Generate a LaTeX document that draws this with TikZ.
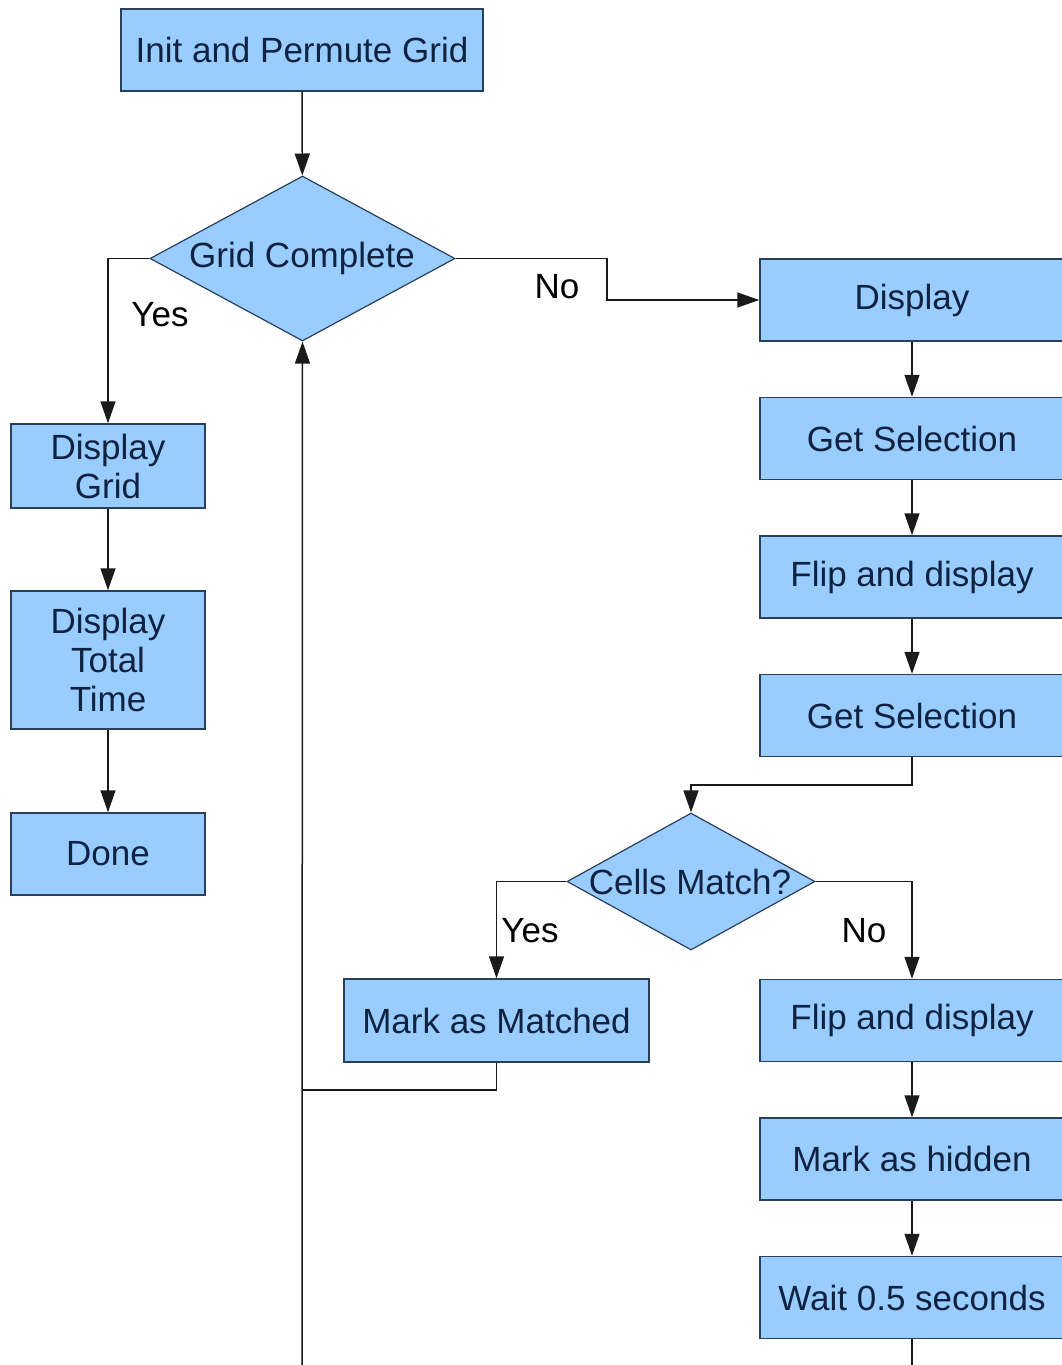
\documentclass[tikz,border=0pt]{standalone}
\usepackage{fontspec}
\setmainfont{Liberation Sans}
\usetikzlibrary{shapes.geometric,arrows.meta}
\definecolor{boxfill}{HTML}{99CCFF}
\definecolor{boxline}{HTML}{2A3F5A}
\definecolor{boxtext}{HTML}{0F2240}
\definecolor{wire}{HTML}{1A1A1A}
\begin{document}
\begin{tikzpicture}[x=1pt,y=-1pt,
  every node/.style={font=\fontsize{35}{39}\selectfont},
  procbox/.style={rectangle,draw=boxline,fill=boxfill,line width=1.5pt,text=boxtext,inner sep=0pt,align=center},
  decbox/.style={diamond,draw=boxline,fill=boxfill,line width=1.2pt,inner sep=0pt},
  flow/.style={draw=wire,line width=1.5pt,-{Triangle[length=22pt,width=15pt]}},
  wireline/.style={draw=wire,line width=1.5pt},
  lbl/.style={text=black,inner sep=0pt},
  rbox/.style={procbox,minimum width=304pt,minimum height=82pt}
]
\useasboundingbox (0,0) rectangle (1062,1365);
\fill[white] (0,0) rectangle (1062,1365);

% main column
\node[procbox,minimum width=362pt,minimum height=82pt] (init) at (302,50) {Init and Permute Grid};
\node[decbox,minimum width=305pt,minimum height=165pt] (gc) at (302.5,258.5) {};
\node[text=boxtext,inner sep=0pt] (gct) at (302,258) {Grid Complete};

% left column
\node[procbox,minimum width=194pt,minimum height=84pt] (dg) at (108,466) {Display\\Grid};
\node[procbox,minimum width=194pt,minimum height=138pt] (dtt) at (108,660) {Display\\Total\\Time};
\node[procbox,minimum width=194pt,minimum height=82pt] (done) at (108,854) {Done};

% right column
\node[rbox] (disp) at (912,300) {Display};
\node[rbox] (gs1) at (912,438.5) {Get Selection};
\node[rbox] (fd1) at (912,577) {Flip and display};
\node[rbox] (gs2) at (912,715.5) {Get Selection};
\node[decbox,minimum width=248pt,minimum height=137pt] (cm) at (691,881.5) {};
\node[text=boxtext,inner sep=0pt] (cmt) at (690,882) {Cells Match?};
\node[procbox,minimum width=305pt,minimum height=83pt] (mm) at (496.5,1020.5) {Mark as Matched};
\node[rbox] (fd2) at (912,1020.5) {Flip and display};
\node[rbox] (mh) at (912,1159) {Mark as hidden};
\node[rbox] (wait) at (912,1297.5) {Wait 0.5 seconds};

% helper coordinates
\coordinate (nobend) at (607,258.5);
\coordinate (cmjoin) at (912,785);
\coordinate (mmjoin) at (302,1090);
\coordinate (loopbot) at (302,1370);
\coordinate (waitend) at (912,1370);

% connectors
\draw[flow] (init) -- (gc);
\draw[flow] (gc.west) -| (dg.north);
\draw[flow] (dg) -- (dtt);
\draw[flow] (dtt) -- (done);
\draw[flow] (gc.east) -- (nobend) |- (disp.west);
\draw[flow] (disp) -- (gs1);
\draw[flow] (gs1) -- (fd1);
\draw[flow] (fd1) -- (gs2);
\draw[flow] (gs2.south) -- (cmjoin) -| (cm.north);
\draw[flow] (cm.west) -| (mm.north);
\draw[flow] (cm.east) -| (fd2.north);
\draw[flow] (fd2) -- (mh);
\draw[flow] (mh) -- (wait);
\draw[wireline] (wait.south) -- (waitend);
\draw[wireline] (mm.south) |- (mmjoin);
\draw[flow] (loopbot) -- (gc.south);

% labels
\node[lbl] (yes1) at (160,315) {Yes};
\node[lbl] (no1) at (557,287) {No};
\node[lbl] (yes2) at (530,931) {Yes};
\node[lbl] (no2) at (864,931) {No};
\end{tikzpicture}
\end{document}
